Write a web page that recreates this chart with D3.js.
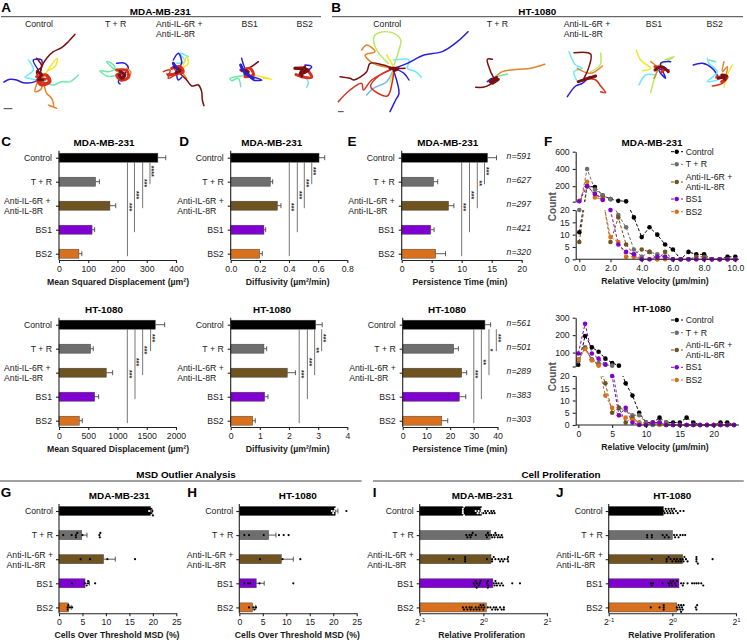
<!DOCTYPE html>
<html>
<head>
<meta charset="utf-8">
<title>Cell motility panels</title>
<script src="https://cdnjs.cloudflare.com/ajax/libs/d3/7.8.5/d3.min.js"></script>
<style>
  html, body { margin: 0; padding: 0; background: #fff; }
  svg { display: block; }
  text { font-family: "Liberation Sans", Arial, sans-serif; font-size: 8.7px; fill: #1a1a1a; }
  .bold { font-weight: bold; }
  .title { font-weight: bold; font-size: 9.9px; fill: #000; }
  .letter { font-weight: bold; font-size: 13.5px; fill: #000; }
  .axis path, .axis line { stroke: #222; stroke-width: 1.1; }
  .axis text { font-size: 8.7px; }
  .star { font-size: 7px; font-weight: bold; }
</style>
</head>
<body>
<div id="viewport"></div>
<script>
var categories = ["Control", "T + R", "Anti-IL-6R +\nAnti-IL-8R", "BS1", "BS2"];
var barColors = ["#000000", "#6e6e6e", "#6f5320", "#8000d2", "#d9701e"];

// panel C
var msdMda = [338, 125, 174, 113, 68];
var msdMdaErr = [365, 138, 194, 122, 78];
var msdMdaSig = [[311, "****"], [286, "***"], [258, "***"], [234, "***"]];
var msdHt = [1646, 541, 808, 610, 347];
var msdHtErr = [1806, 586, 917, 678, 398];
var msdHtSig = [[1566, "***"], [1430, "***"], [1299, "***"], [1168, "***"]];
// panel D
var diffMda = [0.606, 0.272, 0.32, 0.228, 0.199];
var diffMdaErr = [0.645, 0.288, 0.345, 0.24, 0.217];
var diffMdaSig = [[0.556, "***"], [0.505, "***"], [0.457, "***"], [0.402, "***"]];
var diffHt = [2.915, 1.14, 1.94, 1.166, 0.755];
var diffHtErr = [3.14, 1.235, 2.22, 1.28, 0.844];
var diffHtSig = [[3.12, "***"], [2.88, "**"], [2.63, "***"], [2.35, "***"]];
// panel E
var persMda = [14.3, 5.3, 7.8, 4.83, 5.67];
var persMdaErr = [15.8, 6.0, 8.7, 5.4, 7.3];
var persMdaSig = [[13.8, "***"], [12.6, "**"], [11.3, "***"], [10.0, "***"]];
var persMdaN = [591, 627, 297, 421, 320];
var persHt = [34.7, 21.5, 24.9, 23.9, 16.5];
var persHtErr = [37.1, 23.5, 27, 26.6, 19];
var persHtSig = [[39.5, "***"], [36.4, "*"], [33.2, "**"], [30, "***"]];
var persHtN = [561, 501, 289, 383, 303];

// panel F, counts per velocity bin
var velMdaBins = d3.range(0, 10.5, 0.5);
var velMdaControl = [11, 200, 190, 92, 50, 30, 24, 17, 9, 13, 10, 6, 4, 0, 3, 2, 2, 0, 0, 1, 1];
var velMdaTR = [20, 400, 160, 90, 50, 18, 13, 4, 1, 3, 2, 1, 0, 0, 0, 0, 0, 0, 0, 0, 0];
var velMdaAnti = [7, 200, 110, 60, 7, 17, 6, 2, 4, 3, 0, 3, 0, 0, 0, 1, 1, 0, 0, 0, 0];
var velMdaBS1 = [25, 200, 110, 40, 20, 6, 3, 2, 0, 0, 1, 1, 0, 0, 0, 0, 0, 0, 0, 0, 0];
var velMdaBS2 = [30, 250, 70, 45, 9, 7, 1, 1, 0, 0, 0, 0, 0, 0, 0, 0, 0, 0, 0, 0, 0];
var velHtBins = d3.range(0, 24, 1);
var velHtControl = [30, 195, 130, 105, 65, 40, 25, 17, 12, 5, 1, 1, 3, 1, 1, 1, 3, 1, 0, 0, 0, 1, 1, 0];
var velHtTR = [50, 130, 60, 40, 30, 25, 7, 6, 4, 4, 1, 0, 1, 1, 0, 0, 0, 0, 0, 0, 0, 0, 0, 0];
var velHtAnti = [60, 125, 60, 30, 17, 5, 7, 1, 3, 1, 0, 1, 1, 0, 0, 0, 0, 0, 0, 0, 0, 0, 0, 0];
var velHtBS1 = [95, 265, 95, 65, 32, 20, 4, 7, 1, 0, 0, 1, 1, 0, 0, 0, 0, 0, 0, 0, 0, 0, 0, 0];
var velHtBS2 = [60, 120, 55, 25, 12, 7, 4, 3, 2, 1, 0, 1, 0, 0, 0, 0, 0, 0, 0, 0, 0, 0, 0, 0];

// panel G, H
var outMda = [19.5, 4.85, 9.5, 5.55, 2.05];
var outMdaErr = [19.9, 5.97, 12, 6.5, 2.6];
var outMdaDots = [[19.2, 19.6, 19.6, 19.9, 20], [0.9, 2.7, 3.6, 3.6, 3.9, 5, 8.6, 8.7, 8.8], [4.6, 6.6, 10.3, 16.2], [2.8, 5.5, 5.9, 6.2, 6.2, 7.7], [1.85, 1.85, 2, 2.3, 2.8]];
var outHt = [20.45, 6.25, 8.95, 3.6, 2.85];
var outHtErr = [21, 7.8, 11.5, 5.3, 3.5];
var outHtDots = [[19.7, 20, 20.2, 20.4, 22.8], [1.07, 2.06, 5.2, 8.45, 9.45, 10.5], [4.4, 9.2, 13], [1.07, 1.9, 2.35, 4.3, 11.5], [2.06, 3, 3.2, 3.55]];
// panel I, J
var prolMda = [0.982, 1.08, 1.087, 1.11, 1.033];
var prolMdaDots = [
  [0.8, 0.8, 0.81, 0.81, 0.8, 0.92, 0.94, 0.95, 0.97, 0.98, 0.98, 1, 1.02, 1.03, 1.05, 1.07, 1.09, 1.1, 1.12, 1.13],
  [0.83, 0.84, 0.86, 0.87, 0.88, 0.89, 0.92, 1.03, 1.04, 1.05, 1.06, 1.09, 1.1, 1.12, 1.13, 1.14, 1.15, 1.17, 1.18, 1.2, 1.22, 1.23],
  [0.69, 0.72, 0.82, 0.82, 0.82, 1.04, 1.1, 1.1, 1.12, 1.14, 1.18, 1.2, 1.22, 1.24, 1.26, 1.3, 1.31, 1.31],
  [0.9, 0.91, 0.92, 0.93, 0.93, 0.95, 0.96, 0.97, 1.04, 1.05, 1.05, 1.05, 1.12, 1.13, 1.14, 1.15, 1.16, 1.18, 1.2, 1.22, 1.24, 1.37, 1.49],
  [0.8, 0.81, 0.83, 0.84, 0.86, 0.87, 0.88, 0.9, 0.92, 0.93, 0.95, 0.96, 0.97, 0.98, 1, 1, 1.01, 1.05, 1.08, 1.1, 1.12, 1.14, 1.15, 1.17, 1.2, 1.22, 1.25, 1.25]
];
var prolHt = [0.907, 1.0, 1.118, 1.075, 1.05];
var prolHtDots = [
  [0.91, 0.92, 0.93, 0.94, 0.95, 0.96, 0.97, 0.98, 0.99, 1, 1.01, 1.02, 1.04, 1.06, 1.09, 1.13],
  [0.76, 0.76, 0.8, 0.8, 0.9, 0.92, 0.94, 0.96, 1.02, 1.03, 1.05, 1.07, 1.09, 1.12, 1.15],
  [0.8, 0.94, 0.94, 0.96, 0.98, 1, 1.02, 1.04, 1.05, 1.07, 1.09, 1.1, 1.12, 1.13, 1.14, 1.16, 1.18, 1.3, 1.3, 1.3, 1.32, 1.55],
  [0.79, 0.8, 0.81, 0.9, 0.96, 0.97, 0.98, 0.99, 1, 1.01, 1.03, 1.04, 1.05, 1.1, 1.12, 1.13, 1.18, 1.24, 1.27, 1.3, 1.33, 1.37, 1.4],
  [0.79, 0.87, 0.91, 0.91, 0.91, 1.05, 1.06, 1.07, 1.08, 1.09, 1.1, 1.1, 1.11, 1.12, 1.13, 1.29, 1.3, 1.31]
];

// cell tracks at 3x
var blue = "#2a1fe0", cyan = "#6fe8f8", mint = "#70e8a8", yellow = "#f5e52a", orange = "#e5822a",
    red = "#d8301e", maroon = "#7a1010", sky = "#6fb8f0", lime = "#b8e860";
var tracksA = [
  [blue, [[120,230],[105,245],[70,248],[50,240],[30,238],[12,246]]],
  [cyan, [[115,240],[85,235],[75,232],[100,210],[85,180]]],
  [blue, [[115,210],[100,180],[125,180],[118,225]]],
  [mint, [[130,245],[160,255],[185,245],[210,245],[235,225]]],
  [yellow, [[125,240],[140,215],[165,200],[172,175],[150,200],[135,225]]],
  [orange, [[115,240],[105,275],[125,265],[120,240]]],
  [orange, [[130,240],[140,280],[155,295],[160,320],[145,315],[170,325]]],
  [red, [[125,235],[150,240],[130,250],[115,235],[135,225],[145,248],[120,245]]],
  [maroon, [[120,235],[125,200],[140,175],[160,155],[185,143],[205,125],[225,103]]],
  [maroon, [[110,175],[125,200],[110,215],[120,240]]],
  // T + R
  [mint, [[365,222],[340,205],[320,185],[335,190],[345,205],[325,215],[300,212],[320,228],[345,228]]],
  [blue, [[350,190],[375,190],[385,205],[370,225],[355,245],[360,252]]],
  [orange, [[380,205],[392,215],[385,235],[365,240],[350,230]]],
  // Anti-IL-6R + Anti-IL-8R
  [cyan, [[530,190],[555,185],[540,160],[565,170]]],
  [yellow, [[550,195],[560,170],[565,190],[545,205]]],
  [blue, [[520,180],[535,160],[545,190],[530,210],[535,240],[545,232]]],
  [orange, [[545,215],[560,235]]],
  [red, [[490,215],[510,210],[505,235],[525,225],[545,210],[520,200],[530,220],[500,222]]],
  [maroon, [[535,215],[560,240],[575,258],[595,255],[605,275],[607,300],[612,317]]],
  // BS1
  [blue, [[725,175],[735,205],[750,225],[785,240],[760,240],[745,225]]],
  [mint, [[745,225],[720,228],[690,235],[695,242],[715,235],[722,260]]],
  [yellow, [[750,225],[785,230],[815,238],[790,235]]],
  [maroon, [[720,210],[745,205],[775,185]]],
  // BS2
  [cyan, [[905,225],[925,245],[920,262]]],
  [blue, [[915,195],[935,200],[920,215]]]
];
var tracksB = [
  [lime, [[1182,195],[1197,150],[1202,120],[1182,100],[1142,97],[1122,110],[1130,150],[1165,190]]],
  [orange, [[1085,150],[1100,135],[1125,155],[1095,165],[1120,190],[1182,205]]],
  [sky, [[1100,285],[1120,265],[1160,245],[1182,205]]],
  [cyan, [[1182,180],[1227,180],[1222,205],[1247,215],[1264,232]]],
  [yellow, [[1160,165],[1180,205],[1170,245]]],
  [blue, [[1182,205],[1222,190],[1272,165],[1327,155],[1372,125],[1404,95]]],
  [blue, [[1182,215],[1197,280],[1187,300],[1170,335]]],
  [blue, [[1182,205],[1212,220],[1227,240]]],
  [red, [[1015,305],[1050,270],[1085,250],[1090,270],[1115,240],[1182,205]]],
  [red, [[1182,205],[1140,225],[1112,260],[1162,288],[1177,245],[1182,205]]],
  [maroon, [[1020,230],[1050,235],[1062,240],[1100,215],[1110,190],[1150,195],[1182,205],[1215,205]]],
  // T + R
  [orange, [[1482,235],[1507,215],[1552,208],[1592,205],[1634,193]]],
  [mint, [[1487,230],[1522,222]]],
  [blue, [[1462,245],[1477,235],[1472,250]]],
  [maroon, [[1427,262],[1457,260],[1482,240],[1472,215],[1462,178],[1477,178]]],
  // Anti-IL-6R + Anti-IL-8R
  [cyan, [[1707,155],[1727,195],[1747,205],[1722,215],[1732,245]]],
  [lime, [[1802,160],[1800,195],[1772,215]]],
  [orange, [[1732,205],[1772,220],[1807,198]]],
  [blue, [[1702,290],[1727,258],[1747,250],[1762,235]]],
  [red, [[1752,235],[1787,240],[1802,258],[1817,278],[1802,275]]],
  [maroon, [[1722,158],[1772,162],[1767,200],[1752,235]]],
  // BS1
  [yellow, [[1909,150],[1922,180],[1952,205],[1927,212]]],
  [cyan, [[1917,255],[1937,225],[1967,225]]],
  [lime, [[1952,278],[1962,240],[1972,210]]],
  [lime, [[2022,170],[1992,180],[2017,175],[1977,195]]],
  [blue, [[2012,185],[1982,190],[1997,235],[1977,210],[2007,210]]],
  [orange, [[1952,185],[1972,205],[1962,235]]],
  // BS2
  [blue, [[2080,195],[2107,190],[2137,205],[2157,235]]],
  [cyan, [[2122,175],[2127,190],[2152,215],[2122,245],[2152,240]]],
  [mint, [[2127,180],[2147,185]]],
  [orange, [[2172,185],[2167,215],[2182,200],[2177,230]]],
  [yellow, [[2197,195],[2182,225],[2172,262]]],
  [red, [[2137,258],[2167,250],[2182,235]]]
];
// dense knots where the tracks start
var knots = [
  [red, [[110,230],[140,225],[150,245],[125,255],[112,240],[135,238]]],
  [maroon, [[112,215],[125,225],[115,238],[128,240]]],
  [red, [[350,210],[380,212],[385,232],[362,240],[350,225],[368,222]]],
  [maroon, [[360,215],[375,225],[365,235],[358,225]]],
  [red, [[515,205],[540,200],[550,215],[525,222],[505,225]]],
  [maroon, [[522,200],[540,212],[528,218]]],
  [blue, [[520,190],[530,205]]],
  [red, [[725,212],[750,205],[760,225],[735,230]]],
  [maroon, [[725,210],[745,215],[735,222]]],
  [blue, [[722,195],[732,215],[760,235]]],
  [red, [[885,205],[915,205],[935,232],[905,230],[888,224]]],
  [maroon, [[885,205],[925,210],[900,222],[915,200],[905,228]]],
  [maroon, [[1170,205],[1195,205],[1182,212]]],
  [maroon, [[1470,245],[1490,232],[1478,250],[1495,238]]],
  [maroon, [[1735,245],[1787,228],[1750,240],[1770,232]]],
  [red, [[1965,200],[1995,205],[1985,215]]],
  [maroon, [[1965,210],[1985,200],[2005,215]]],
  [red, [[2150,232],[2182,232],[2165,245]]],
  [maroon, [[2155,235],[2180,228],[2165,225],[2175,238]]]
];
var scaleBars = [[[12,326],[36,326]], [[1015,335],[1030,335]]];

var svg = d3.select("#viewport").append("svg").attr("width", 747).attr("height", 642);

function label(x, y, txt, cls, anchor) {
  return svg.append("text").attr("x", x).attr("y", y).attr("text-anchor", anchor || "middle")
    .attr("dominant-baseline", "central").attr("class", cls || null).text(txt);
}

function labelRule(x1, x2, y) {
  svg.append("line").attr("x1", x1).attr("x2", x2).attr("y1", y).attr("y2", y)
    .attr("stroke", "#444").attr("stroke-width", 1);
}

// puts tick text with a line break on two left aligned lines
function splitLabels(g, left) {
  g.selectAll(".tick text").each(function (d) {
    if (d.indexOf("\n") < 0) return;
    var t = d3.select(this).text(null).attr("text-anchor", "start").attr("dy", null);
    d.split("\n").forEach(function (part, i) {
      t.append("tspan").attr("x", left).attr("y", i == 0 ? -2 : 8).text(part);
    });
  });
}

// simple swarm so dots at the same value do not sit on top of each other
function swarm(values, x, r) {
  var placed = [];
  values.slice().sort(d3.ascending).forEach(function (v) {
    var px = x(v), off = 0;
    for (var k = 0; k < 9; k++) {
      off = (k % 2 ? 1 : -1) * Math.ceil(k / 2) * r * 2;
      var hit = placed.some(function (p) { return Math.hypot(p.px - px, p.off - off) < r * 1.9; });
      if (!hit) break;
    }
    placed.push({ v: v, px: px, off: off });
  });
  return placed;
}

function barPanel(o) {
  var x = o.log
    ? d3.scaleLog().base(2).domain(o.domain).range([o.x0, o.x1])
    : d3.scaleLinear().domain(o.domain).range([o.x0, o.x1]);
  var y = d3.scalePoint().domain(categories).range([o.y0, o.y0 + o.step * 4]);
  var g = svg.append("g");
  var bh = 9;

  g.selectAll(".bar").data(o.values).enter().append("rect")
    .attr("x", o.x0)
    .attr("y", function (d, i) { return y(categories[i]) - bh / 2; })
    .attr("width", function (d) { return x(d) - o.x0; })
    .attr("height", bh)
    .attr("fill", function (d, i) { return barColors[i]; })
    .attr("stroke", "#444").attr("stroke-width", 0.5);

  if (o.errs) {
    o.errs.forEach(function (e, i) {
      var cy = y(categories[i]), ex = x(e), vx = x(o.values[i]);
      g.append("path").attr("d", "M" + vx + "," + cy + "H" + ex + "M" + ex + "," + (cy - 2.5) + "V" + (cy + 2.5))
        .attr("fill", "none").attr("stroke", "#333").attr("stroke-width", 0.8);
    });
  }

  if (o.sig) {
    o.sig.forEach(function (s, i) {
      var top = y(categories[0]) + bh / 2, bottom = y(categories[i + 1]) + 2.5, lx = x(s[0]);
      g.append("line").attr("x1", lx).attr("x2", lx).attr("y1", top).attr("y2", bottom)
        .attr("stroke", "#666").attr("stroke-width", 0.9);
      g.append("text").attr("class", "star").attr("text-anchor", "middle")
        .attr("transform", "translate(" + (lx - 0.5) + "," + ((top + bottom) / 2 - 2) + ") rotate(90)")
        .text(s[1]);
    });
  }

  if (o.dots) {
    o.dots.forEach(function (vals, i) {
      var cy = y(categories[i]);
      g.selectAll(null).data(swarm(vals, x, 1.1)).enter().append("circle")
        .attr("cx", function (d) { return d.px; })
        .attr("cy", function (d) { return cy + d.off; })
        .attr("r", 1.1)
        .attr("fill", function (d) { return i == 0 && d.v <= o.values[0] ? "#fff" : "#000"; });
    });
  }

  if (o.n) {
    o.n.forEach(function (v, i) {
      svg.append("text").attr("x", 531).attr("y", y(categories[i]) - 1.5).attr("text-anchor", "end")
        .attr("dominant-baseline", "central").style("font-style", "italic").text("n=" + v);
    });
  }

  var xAxis = d3.axisBottom(x).tickValues(o.ticks).tickSizeInner(3).tickSizeOuter(0);
  xAxis.tickFormat(o.log ? function () { return ""; } : (o.format || d3.format("d")));
  var gx = g.append("g").attr("class", "axis").attr("transform", "translate(0," + o.base + ")").call(xAxis);
  if (o.log) {
    gx.selectAll(".tick text").each(function (d) {
      var t = d3.select(this).text("2");
      t.append("tspan").attr("dy", -3).style("font-size", "6px").text(Math.round(Math.log2(d)));
    });
  }

  var yAxis = d3.axisLeft(y).tickSizeInner(3).tickSizeOuter(0).tickPadding(o.pad || 4);
  var gy = g.append("g").attr("class", "axis").attr("transform", "translate(" + o.x0 + ",0)").call(yAxis);
  gy.select(".domain").remove();
  gy.append("line").attr("y1", o.y0 - 7).attr("y2", o.base);
  splitLabels(gy, o.left || -53.5);

  label(o.titleX, o.y0 - 15.7, o.title, "title");
  label(o.labelX, o.base + 22, o.xLabel, "bold");
}

function velocityPanel(o) {
  var x = d3.scaleLinear().domain(o.xDomain).range(o.xRange);
  var yLow = d3.scaleLinear().domain([0, 20]).range(o.lowRange);
  var yHigh = d3.scaleLinear().domain([20, o.top]).range(o.highRange);
  var y = function (v) { return v > 20 ? yHigh(v) : yLow(v); };
  var axisX = 575.7, endX = 739;
  var g = svg.append("g");
  var id = o.id;

  var defs = svg.append("defs");
  defs.append("clipPath").attr("id", id + "hi").append("rect")
    .attr("x", axisX).attr("width", endX - axisX + 5).attr("y", o.highRange[1] - 5).attr("height", o.highRange[0] - o.highRange[1] + 5);
  defs.append("clipPath").attr("id", id + "lo").append("rect")
    .attr("x", axisX).attr("width", endX - axisX + 5).attr("y", o.lowRange[1]).attr("height", o.lowRange[0] - o.lowRange[1] + 3);

  var line = d3.line().x(function (d, i) { return x(o.bins[i]); }).y(function (d) { return y(d); });
  var order = [0, 1, 2, 4, 3];
  order.forEach(function (k) {
    ["hi", "lo"].forEach(function (part) {
      g.append("path").datum(o.series[k]).attr("d", line).attr("clip-path", "url(#" + id + part + ")")
        .attr("fill", "none").attr("stroke", barColors[k]).attr("stroke-width", 1).attr("stroke-dasharray", "3,2");
    });
  });
  order.forEach(function (k) {
    g.selectAll(null).data(o.series[k]).enter().append("circle")
      .attr("cx", function (d, i) { return x(o.bins[i]); })
      .attr("cy", function (d) { return y(d); })
      .attr("r", 2.3)
      .attr("fill", barColors[k]);
  });

  var gx = g.append("g").attr("class", "axis").attr("transform", "translate(0," + o.lowRange[0] + ")")
    .call(d3.axisBottom(x).tickValues(o.xTicks).tickSizeInner(3).tickSizeOuter(0).tickFormat(o.xFormat));
  gx.select(".domain").remove();
  gx.append("line").attr("x1", axisX).attr("x2", endX);

  g.append("g").attr("class", "axis").attr("transform", "translate(" + axisX + ",0)")
    .call(d3.axisLeft(yLow).tickValues([0, 5, 10, 15, 20]).tickSizeInner(3).tickSizeOuter(0).tickPadding(3));
  g.append("g").attr("class", "axis").attr("transform", "translate(" + axisX + ",0)")
    .call(d3.axisLeft(yHigh).tickValues(o.highTicks).tickSizeInner(3).tickSizeOuter(0).tickPadding(3)
      .tickFormat(function (d) { return d == 20 ? "" : d; }));

  label(652, o.highRange[1] - 9.7, o.title, "title");
  label(655, o.lowRange[0] + 22, "Relative Velocity (µm/min)", "bold");
  svg.append("text").attr("transform", "translate(552," + o.countY + ") rotate(-90)")
    .attr("text-anchor", "middle").attr("dominant-baseline", "central")
    .attr("class", "bold").style("font-size", "10px").style("fill", "#555").text("Count");

  // legend
  categories.forEach(function (c, i) {
    var ly = o.legendY[i];
    svg.append("line").attr("x1", 671).attr("x2", 683).attr("y1", ly).attr("y2", ly)
      .attr("stroke", barColors[i]).attr("stroke-dasharray", "3,2");
    svg.append("circle").attr("cx", 676.7).attr("cy", ly).attr("r", 2.2).attr("fill", barColors[i]);
    c.split("\n").forEach(function (part, j, all) {
      label(685.7, ly + (j - (all.length - 1) / 2) * 9.7, part, null, "start");
    });
  });
}

// panels A and B
var trackX = d3.scaleLinear().domain([0, 2241]).range([0, 747]);
var trackY = d3.scaleLinear().domain([0, 1926]).range([0, 642]);
var trackLine = d3.line().x(function (d) { return trackX(d[0]); }).y(function (d) { return trackY(d[1]); })
  .curve(d3.curveCatmullRom);
var gTracks = svg.append("g").attr("fill", "none").attr("stroke-linejoin", "round").attr("stroke-linecap", "round");
tracksA.concat(tracksB).forEach(function (t) {
  gTracks.append("path").attr("d", trackLine(t[1])).attr("stroke", t[0]).attr("stroke-width", 1.5);
});
knots.forEach(function (t) {
  gTracks.append("path").attr("d", trackLine(t[1])).attr("stroke", t[0]).attr("stroke-width", 3);
});
scaleBars.forEach(function (b) {
  gTracks.append("path").attr("d", trackLine(b)).attr("stroke", "#444").attr("stroke-width", 1);
});

label(160.3, 11.3, "MDA-MB-231", "title");
label(537.3, 11.3, "HT-1080", "title");
labelRule(1, 321, 16.7);
labelRule(332, 743, 16.7);
[[39, "Control"], [115.7, "T + R"], [249.7, "BS1"], [304.7, "BS2"],
 [387.3, "Control"], [497.3, "T + R"], [654, "BS1"], [714.7, "BS2"]].forEach(function (d) {
  label(d[0], 23.7, d[1]);
});
[156, 563.7].forEach(function (x) {
  label(x, 23.7, "Anti-IL-6R +", null, "start");
  label(x, 34, "Anti-IL-8R", null, "start");
});

// panel letters
[["A", 6, 7], ["B", 336, 7], ["C", 6, 141], ["D", 184, 141], ["E", 352, 141], ["F", 548, 141],
 ["G", 6, 492], ["H", 192, 492], ["I", 374.7, 492], ["J", 559.7, 492]].forEach(function (d) {
  label(d[1], d[2], d[0], "letter");
});

var row1 = 157.7, row2 = 324.7, row3 = 511;

barPanel({ title: "MDA-MB-231", titleX: 104, x0: 59, x1: 176, y0: row1, step: 24, base: 260, domain: [0, 400], ticks: [0, 100, 200, 300, 400],
  values: msdMda, errs: msdMdaErr, sig: msdMdaSig, left: -55, xLabel: "Mean Squared Displacement (µm²)", labelX: 118 });
barPanel({ title: "HT-1080", titleX: 104, x0: 59, x1: 176, y0: row2, step: 24, base: 427, domain: [0, 2000], ticks: [0, 500, 1000, 1500, 2000],
  values: msdHt, errs: msdHtErr, sig: msdHtSig, left: -55, xLabel: "Mean Squared Displacement (µm²)", labelX: 118 });
barPanel({ title: "MDA-MB-231", titleX: 271.7, x0: 230.7, x1: 347.3, y0: row1, step: 24, base: 260, domain: [0, 0.8], ticks: [0, 0.2, 0.4, 0.6, 0.8], format: d3.format(".1f"),
  values: diffMda, errs: diffMdaErr, sig: diffMdaSig, xLabel: "Diffusivity (µm²/min)", labelX: 287.7 });
barPanel({ title: "HT-1080", titleX: 272, x0: 230.7, x1: 347.3, y0: row2, step: 24, base: 427, domain: [0, 4], ticks: [0, 1, 2, 3, 4],
  values: diffHt, errs: diffHtErr, sig: diffHtSig, xLabel: "Diffusivity (µm²/min)", labelX: 287.7 });
barPanel({ title: "MDA-MB-231", titleX: 447.7, x0: 401.7, x1: 521.7, y0: row1, step: 24, base: 260, domain: [0, 20], ticks: [0, 5, 10, 15, 20],
  values: persMda, errs: persMdaErr, sig: persMdaSig, n: persMdaN, xLabel: "Persistence Time (min)", labelX: 460 });
barPanel({ title: "HT-1080", titleX: 447, x0: 402.7, x1: 497.5, y0: row2, step: 24, base: 427, domain: [0, 40], ticks: [0, 10, 20, 30, 40],
  values: persHt, errs: persHtErr, sig: persHtSig, n: persHtN, xLabel: "Persistence Time (min)", labelX: 460 });

velocityPanel({ id: "velA", title: "MDA-MB-231", bins: velMdaBins, series: [velMdaControl, velMdaTR, velMdaAnti, velMdaBS1, velMdaBS2],
  xDomain: [0, 10], xRange: [579.3, 735.3], xTicks: [0, 2, 4, 6, 8, 10], xFormat: d3.format(".1f"),
  lowRange: [259.3, 210], highRange: [201.7, 151.7], top: 600, highTicks: [20, 200, 400, 600], countY: 206.7,
  legendY: [151.7, 164.3, 182, 199, 211.7] });
velocityPanel({ id: "velB", title: "HT-1080", bins: velHtBins, series: [velHtControl, velHtTR, velHtAnti, velHtBS1, velHtBS2],
  xDomain: [0, 20], xRange: [578.3, 713.7], xTicks: [0, 5, 10, 15, 20], xFormat: d3.format("d"),
  lowRange: [425, 376], highRange: [366.5, 317.7], top: 300, highTicks: [20, 100, 200, 300], countY: 376.7,
  legendY: [320, 332.7, 350, 367.3, 380] });

// bottom row
label(186, 474, "MSD Outlier Analysis", "title");
label(561, 474, "Cell Proliferation", "title");
labelRule(0, 361.7, 481);
labelRule(373, 743.7, 481);

barPanel({ title: "MDA-MB-231", titleX: 119.3, x0: 59, x1: 176.3, y0: row3, step: 24.1, base: 613.3, domain: [0, 25], ticks: [0, 5, 10, 15, 20, 25],
  values: outMda, errs: outMdaErr, dots: outMdaDots, pad: 3, left: -52.5, xLabel: "Cells Over Threshold MSD (%)", labelX: 117 });
barPanel({ title: "HT-1080", titleX: 297.7, x0: 239.3, x1: 356.7, y0: row3, step: 24.1, base: 613.3, domain: [0, 25], ticks: [0, 5, 10, 15, 20, 25],
  values: outHt, errs: outHtErr, dots: outHtDots, pad: 3, left: -52.5, xLabel: "Cells Over Threshold MSD (%)", labelX: 297.3 });
barPanel({ title: "MDA-MB-231", titleX: 482.3, x0: 419.7, x1: 547, y0: row3, step: 24.1, base: 613.3, log: true, domain: [0.5, 2], ticks: [0.5, 1, 2],
  values: prolMda, dots: prolMdaDots, pad: 3, left: -52.5, xLabel: "Relative Proliferation", labelX: 481.7 });
barPanel({ title: "HT-1080", titleX: 672.3, x0: 608.7, x1: 736, y0: row3, step: 24.1, base: 613.3, log: true, domain: [0.5, 2], ticks: [0.5, 1, 2],
  values: prolHt, dots: prolHtDots, pad: 3, left: -52.5, xLabel: "Relative Proliferation", labelX: 671.7 });
</script>
</body>
</html>
